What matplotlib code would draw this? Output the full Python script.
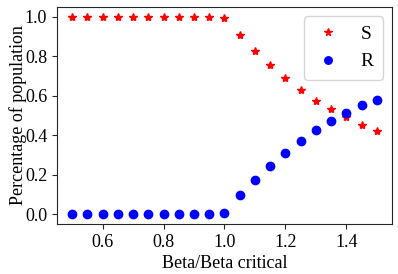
import matplotlib
matplotlib.use("Agg")
import matplotlib.pyplot as plt
import numpy as np

# Fraction of population vs beta/beta critical
ratio = [0.5, 0.55, 0.6, 0.65, 0.7, 0.75, 0.8, 0.85, 0.9, 0.95, 1.0,
         1.05, 1.1, 1.15, 1.2, 1.25, 1.3, 1.35, 1.4, 1.45, 1.5]
S = [1.0, 1.0, 1.0, 1.0, 1.0, 1.0, 1.0, 1.0, 1.0, 1.0, 0.995,
     0.905, 0.825, 0.755, 0.69, 0.63, 0.575, 0.53, 0.49, 0.45, 0.42]
R = [0.0, 0.0, 0.0, 0.0, 0.0, 0.0, 0.0, 0.0, 0.0, 0.0, 0.005,
     0.095, 0.175, 0.245, 0.31, 0.37, 0.425, 0.47, 0.51, 0.55, 0.58]

plt.rcParams['font.family'] = ['Liberation Serif', 'DejaVu Serif']

fig, ax = plt.subplots(figsize=(3.98, 2.74), dpi=100)
ax.plot(ratio, S, '*', color='red', markersize=6, label='S')
ax.plot(ratio, R, 'o', color='blue', markersize=6, label='R')

ax.set_xlabel("Beta/Beta critical", fontsize=13, labelpad=3)
ax.set_ylabel("Percentage of population", fontsize=13, labelpad=-1.5)
ax.tick_params(labelsize=13, direction='out', length=3.5, color='#262626')
for s in ax.spines.values():
    s.set_color('#262626')
ax.set_xticks([0.6, 0.8, 1.0, 1.2, 1.4])
ax.set_yticks([0.0, 0.2, 0.4, 0.6, 0.8, 1.0])
ax.legend(fontsize=14, loc='upper right', borderpad=0.5, labelspacing=0.5,
          handlelength=1.5, handletextpad=0.9, borderaxespad=0.46,
          markerscale=0.9)

fig.subplots_adjust(left=0.143, right=0.985, top=0.9755, bottom=0.1825)
fig.savefig("out.png")
